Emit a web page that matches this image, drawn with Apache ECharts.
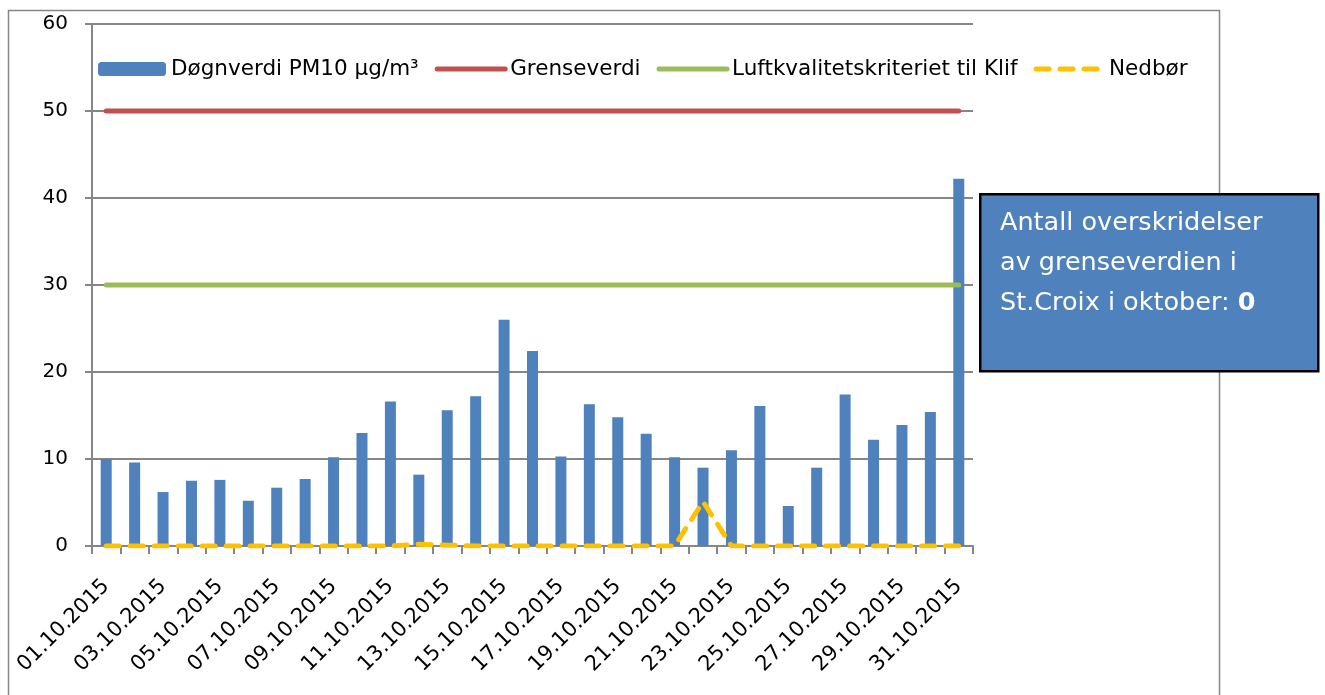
<!DOCTYPE html>
<html>
<head>
<meta charset="utf-8">
<script src="https://cdn.jsdelivr.net/npm/echarts@6/dist/echarts.min.js"></script>
<style>
html,body{margin:0;padding:0;background:#fff;}
#chart{width:1325px;height:695px;}
</style>
</head>
<body>
<div id="chart"></div>
<script>
var categories = ['01.10.2015','02.10.2015','03.10.2015','04.10.2015','05.10.2015','06.10.2015','07.10.2015','08.10.2015','09.10.2015','10.10.2015','11.10.2015','12.10.2015','13.10.2015','14.10.2015','15.10.2015','16.10.2015','17.10.2015','18.10.2015','19.10.2015','20.10.2015','21.10.2015','22.10.2015','23.10.2015','24.10.2015','25.10.2015','26.10.2015','27.10.2015','28.10.2015','29.10.2015','30.10.2015','31.10.2015'];
var pm10 = [10.0, 9.6, 6.2, 7.5, 7.6, 5.2, 6.7, 7.7, 10.2, 13.0, 16.6, 8.2, 15.6, 17.2, 26.0, 22.4, 10.3, 16.3, 14.8, 12.9, 10.2, 9.0, 11.0, 16.1, 4.6, 9.0, 17.4, 12.2, 13.9, 15.4, 42.2];
var grenseverdi = [50,50,50,50,50,50,50,50,50,50,50,50,50,50,50,50,50,50,50,50,50,50,50,50,50,50,50,50,50,50,50];
var luftkvalitet = [30,30,30,30,30,30,30,30,30,30,30,30,30,30,30,30,30,30,30,30,30,30,30,30,30,30,30,30,30,30,30];
var nedbor = [0,0,0,0,0,0,0,0,0,0,0,0.2,0.1,0,0,0,0,0,0,0,0,5.1,0,0,0,0,0,0,0,0,0];
var seriesNames = ['Døgnverdi PM10 µg/m³','Grenseverdi','Luftkvalitetskriteriet til Klif','Nedbør'];
var yTicks = {min: 0, max: 60, interval: 10};

var FONT = 'DejaVu Sans';
var DASH = [13, 11];
var hidden = {color: 'rgba(0,0,0,0)', borderWidth: 0, opacity: 0};
var chart = echarts.init(document.getElementById('chart'), null, {renderer: 'canvas'});
chart.setOption({
  animation: false,
  backgroundColor: '#ffffff',
  grid: {left: 92, right: 352, top: 24, bottom: 149, containLabel: false, outerBoundsMode: 'none'},
  legend: {
    data: [
      {name: seriesNames[0]},
      {name: seriesNames[1], itemStyle: hidden, lineStyle: {color: '#C0504D', width: 5, cap: 'round'}},
      {name: seriesNames[2], itemStyle: hidden, lineStyle: {color: '#9BBB59', width: 5, cap: 'round'}},
      {name: seriesNames[3], itemStyle: hidden, lineStyle: {color: '#FFC000', width: 5, type: DASH, cap: 'round'}}
    ],
    left: 98, top: 58, padding: 0,
    itemWidth: 68, itemHeight: 14, itemGap: 16,
    textStyle: {fontFamily: FONT, fontSize: 21.5, color: '#000'}
  },
  xAxis: {
    type: 'category',
    data: categories,
    boundaryGap: true,
    axisLine: {lineStyle: {color: '#868686', width: 2}},
    axisTick: {show: true, interval: 0, length: 8, lineStyle: {color: '#868686', width: 2}},
    axisLabel: {interval: 1, rotate: 45, margin: 37, fontFamily: FONT, fontSize: 21, color: '#000'},
    splitLine: {show: false}
  },
  yAxis: {
    type: 'value',
    min: yTicks.min, max: yTicks.max, interval: yTicks.interval,
    axisLine: {show: true, lineStyle: {color: '#868686', width: 2}},
    axisTick: {show: true, length: 7, lineStyle: {color: '#868686', width: 2}},
    axisLabel: {margin: 24, fontFamily: FONT, fontSize: 20, color: '#000'},
    splitLine: {show: true, lineStyle: {color: '#868686', width: 2}}
  },
  series: [
    {name: seriesNames[0], type: 'bar', data: pm10, barWidth: 11,
     itemStyle: {color: '#4F81BD'}, z: 2},
    {name: seriesNames[1], type: 'line', data: grenseverdi, symbol: 'none',
     lineStyle: {color: '#C0504D', width: 5, cap: 'round'}, itemStyle: {color: '#C0504D'}, z: 3},
    {name: seriesNames[2], type: 'line', data: luftkvalitet, symbol: 'none',
     lineStyle: {color: '#9BBB59', width: 5, cap: 'round'}, itemStyle: {color: '#9BBB59'}, z: 3},
    {name: seriesNames[3], type: 'line', data: nedbor, symbol: 'none',
     lineStyle: {color: '#FFC000', width: 5, type: DASH, cap: 'round'}, itemStyle: {color: '#FFC000'}, z: 4}
  ],
  graphic: [
    {type: 'rect', left: 6, top: 8, z: 0, silent: true,
     shape: {x: 0, y: 0, width: 1211, height: 800},
     style: {fill: 'none', stroke: '#868686', lineWidth: 1.5}},
    {type: 'rect', left: 979, top: 193, z: 100,
     shape: {x: 0, y: 0, width: 338, height: 177},
     style: {fill: '#4F81BD', stroke: '#000', lineWidth: 2.5}},
    {type: 'text', left: 1000, top: 203, z: 101,
     style: {
       text: 'Antall overskridelser\nav grenseverdien i\nSt.Croix i oktober: {b|0}',
       fill: '#ffffff', font: '25.5px "DejaVu Sans"', lineHeight: 40,
       rich: {b: {fontWeight: 'bold', fontSize: 25.5, fontFamily: FONT, fill: '#ffffff', lineHeight: 40}}
     }}
  ]
});
</script>
</body>
</html>
